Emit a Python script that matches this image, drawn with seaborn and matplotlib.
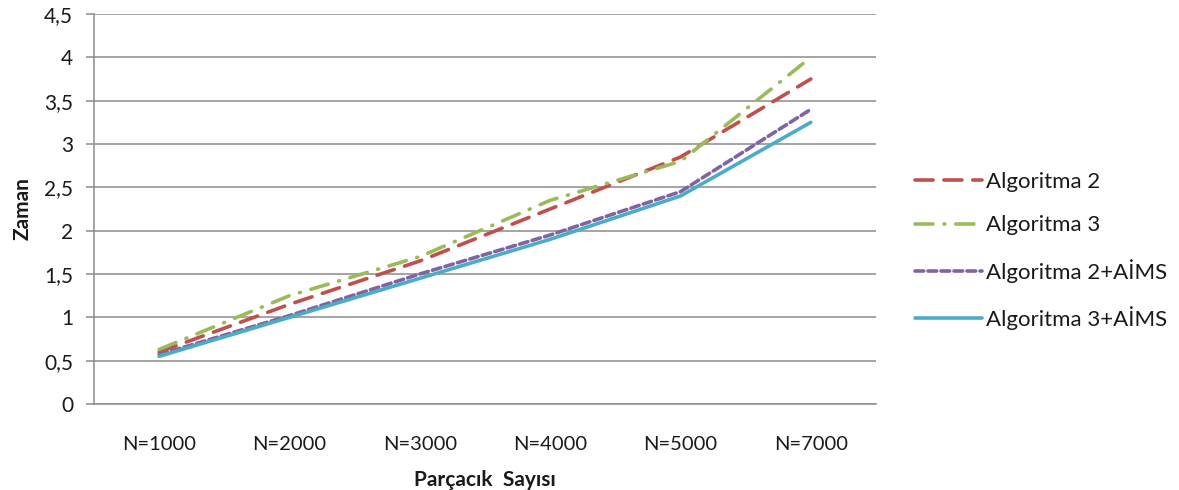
import matplotlib
matplotlib.use("Agg")
import matplotlib.pyplot as plt
import seaborn as sns
import pandas as pd

categories = ["N=1000", "N=2000", "N=3000", "N=4000", "N=5000", "N=7000"]
alg2 = [0.60, 1.15, 1.65, 2.25, 2.85, 3.75]
alg3 = [0.63, 1.25, 1.70, 2.35, 2.80, 4.00]
alg2_aims = [0.57, 1.02, 1.50, 1.95, 2.45, 3.40]
alg3_aims = [0.55, 1.00, 1.45, 1.90, 2.40, 3.25]
series_names = ["Algoritma 2", "Algoritma 3", "Algoritma 2+AİMS", "Algoritma 3+AİMS"]
y_ticks = [0, 0.5, 1, 1.5, 2, 2.5, 3, 3.5, 4, 4.5]

df = pd.DataFrame({
    "N": categories * 4,
    "Zaman": alg2 + alg3 + alg2_aims + alg3_aims,
    "Seri": [s for s in series_names for _ in categories],
})

sns.set_theme(style="white")
plt.rcParams["font.family"] = ["Lato", "DejaVu Sans"]

colors = {
    "Algoritma 2": "#C0504D",
    "Algoritma 3": "#9BBB59",
    "Algoritma 2+AİMS": "#8064A2",
    "Algoritma 3+AİMS": "#4BACC6",
}
dashes = {
    "Algoritma 2": (5, 3),
    "Algoritma 3": (5, 3, 0.3, 3),
    "Algoritma 2+AİMS": (2.4, 1.2),
    "Algoritma 3+AİMS": "",
}

fig = plt.figure(figsize=(11.79, 4.90), dpi=100)
ax = fig.add_axes([94 / 1179, 1 - 404 / 490, (876 - 94) / 1179, (404 - 14) / 490])

sns.lineplot(
    data=df, x="N", y="Zaman", hue="Seri", style="Seri",
    palette=colors, dashes=dashes, hue_order=series_names, style_order=series_names,
    linewidth=2.6, ax=ax, legend=True, sort=False,
)
for line in ax.get_lines():
    line.set_dash_capstyle("round")
    line.set_solid_capstyle("round")

ax.set_xlim(-0.5, len(categories) - 0.5)
ax.set_ylim(0, 4.5)
ax.set_yticks(y_ticks)
ax.set_yticklabels([f"{v:g}".replace(".", ",") for v in y_ticks])
ax.yaxis.grid(True, color="#8C8C8C", linewidth=1.1)
ax.xaxis.grid(False)
for side in ["top", "right"]:
    ax.spines[side].set_visible(False)
for side in ["left", "bottom"]:
    ax.spines[side].set_color("#8C8C8C")
    ax.spines[side].set_linewidth(1.1)
ax.tick_params(axis="y", left=True, length=6, width=1.1, color="#8C8C8C",
               labelsize=15, labelcolor="#1a1a1a", pad=9)
ax.tick_params(axis="x", bottom=False, labelsize=14.5, labelcolor="#1a1a1a", pad=17)

ax.set_xlabel("Parçacık  Sayısı", fontsize=15, fontweight="bold", color="#1a1a1a", labelpad=12)
ax.set_ylabel("Zaman", fontsize=15, fontweight="bold", color="#1a1a1a", labelpad=8)

handles, labels = ax.get_legend_handles_labels()
ax.legend_.remove()
fig.legend(
    handles, labels, loc="center left", bbox_to_anchor=(895 / 1179, 1 - 251 / 490),
    frameon=False, fontsize=16, handlelength=3.0, labelspacing=1.05, handletextpad=0.2,
    labelcolor="#1a1a1a",
)

fig.savefig("out.png", dpi=100)
